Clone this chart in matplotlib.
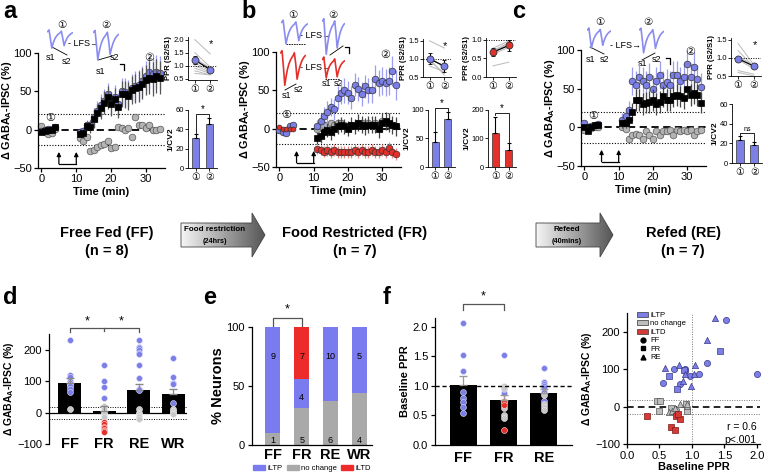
import numpy as np
import matplotlib
matplotlib.use("Agg")
import matplotlib.pyplot as plt
from matplotlib.patches import Polygon, Patch
from matplotlib.lines import Line2D
from matplotlib.colors import LinearSegmentedColormap

plt.rcParams['font.family'] = ['Liberation Sans', 'DejaVu Sans', 'Noto Sans CJK JP']
plt.rcParams['mathtext.fontset'] = 'custom'
plt.rcParams['mathtext.bf'] = 'Liberation Sans:bold'
plt.rcParams['mathtext.rm'] = 'Liberation Sans'
plt.rcParams['axes.linewidth'] = 0.9

# colours
BLUE = '#7b7fe6'
TRACE_BLUE = '#8a8cf0'
RED = '#e3302b'
GRAY = '#b4b4b4'
BLUE_ERR = '#9c9ff0'
RED_ERR = '#ee8a86'

# ---------------- data: time courses (a, b, c) ----------------
t_base = [0, 1, 2, 3, 4]
t_post = list(range(11, 35))
lfs_on, lfs_off = 5, 10

a_blue_base = [-2, -1, 1, 1, 4]
a_black_base = [-3, -2, 0, 0, 3]
a_gray_base = [5, -3, -6, -4, 1]
a_blue_post = [-3, -2, 6, 6, 16, 25, 32, 38, 46, 36, 43, 33, 50, 49, 47, 55, 57, 58, 63, 70, 75, 72, 75, 74]
a_black_post = [-5, -4, 5, 4, 14, 22, 28, 35, 42, 33, 40, 30, 47, 46, 44, 52, 54, 56, 60, 65, 68, 66, 70, 68]
a_gray_post = [-11, -15, -9, -28, -26, -22, -20, -19, -15, -24, -22, 4, 2, 0, 2, -9, 16, 6, 6, 2, 6, 0, 0, 1]
a_err_post = [5, 5, 6, 8, 12, 12, 14, 15, 15, 15, 15, 15, 17, 18, 18, 18, 19, 20, 20, 20, 21, 22, 22, 22]

b_blue_base = [-2, -5, -6, 4, 5]
b_red_base = [2, 0, -1, 0, 0]
b_blue_post = [3, 10, 16, 22, 28, 25, 40, 47, 50, 47, 40, 57, 52, 45, 55, 50, 50, 65, 60, 62, 60, 62, 75, 57]
b_black_post = [-12, -10, -5, -2, -5, 0, 3, 5, 3, 0, 5, 3, 8, 5, 3, 5, 5, 5, 0, 8, 10, 8, 5, 3]
b_gray_post = [0, 3, 5, 5, 7, 5, 8, 7, 5, 3, 5, 5, 8, 7, 5, 8, 5, 7, 5, 10, 8, 6, 5, 3]
b_red_post = [-27, -28, -30, -28, -30, -28, -30, -30, -30, -30, -30, -28, -30, -28, -30, -30, -28, -30, -30, -28, -30, -25, -30, -33]
b_blue_err = [8, 10, 12, 14, 12, 14, 15, 15, 16, 15, 15, 15, 16, 16, 15, 16, 16, 18, 17, 18, 18, 18, 20, 20]
b_black_err = [8, 9, 9, 9, 10, 10, 10, 10, 10, 10, 10, 10, 11, 11, 11, 11, 11, 11, 12, 12, 12, 12, 12, 12]
b_red_err = [6, 7, 7, 8, 8, 8, 8, 8, 8, 8, 8, 8, 8, 8, 8, 8, 8, 8, 8, 8, 8, 8, 8, 8]

c_blue_base = [5, 0, 2, 3, 4]
c_black_base = [0, -5, 0, 3, 3]
c_gray_base = [-3, -4, -1, 0, 1]
c_blue_post = [10, 15, 22, 60, 55, 65, 60, 55, 65, 50, 60, 68, 55, 58, 55, 68, 68, 60, 65, 82, 65, 78, 62, 52]
c_black_post = [5, 5, 10, 20, 35, 35, 30, 32, 33, 35, 30, 33, 40, 35, 35, 40, 42, 40, 38, 50, 42, 45, 42, 32]
c_gray_post = [0, -2, -15, -10, -8, -10, -15, -5, -10, -15, -5, -10, -5, -5, -3, -10, -3, -5, -3, -5, -3, -10, -5, -3]
c_blue_err = [8, 10, 12, 18, 18, 18, 18, 18, 18, 18, 18, 18, 18, 18, 18, 18, 18, 18, 18, 20, 18, 20, 18, 18]
c_black_err = [6, 6, 8, 12, 14, 14, 14, 14, 14, 14, 14, 14, 14, 14, 14, 14, 14, 14, 14, 15, 14, 15, 14, 14]

# representative IPSC traces (arbitrary units)
trace_pre = [0, 0.1, -0.45, -1.0, -0.7, -0.48, -0.33, -0.22, -0.14, -0.08, 0.02,
             -0.4, -0.85, -0.6, -0.42, -0.29, -0.2, -0.13, -0.08]
trace_post = [0, 0.1, -0.7, -1.6, -1.15, -0.8, -0.55, -0.38, -0.25, -0.15, 0.0,
              -0.55, -1.3, -0.95, -0.68, -0.48, -0.33, -0.22, -0.14]
trace_red_post = [0, 0.1, -0.35, -0.8, -0.55, -0.38, -0.26, -0.18, -0.12, -0.07, 0.02,
                  -0.35, -0.75, -0.52, -0.36, -0.25, -0.17, -0.11, -0.07]

# ---------------- data: insets ----------------
a_ppr_pre = [2.0, 1.5, 1.3, 1.2, 1.1, 1.0, 0.9, 0.8, 0.7]
a_ppr_post = [1.45, 0.95, 0.9, 0.85, 0.8, 0.75, 0.7, 0.65, 0.65]
a_ppr_mean, a_ppr_sem = [1.22, 0.85], [0.15, 0.05]
a_cv_mean, a_cv_sem = [31, 45], [4, 7]

b_ppr_pre_blue = [1.5, 1.05, 0.95, 1.0, 0.8]
b_ppr_post_blue = [1.3, 0.75, 0.6, 0.55, 0.65]
b_ppr_mean_blue, b_ppr_sem_blue = [1.0, 0.8], [0.15, 0.17]
b_ppr_pre_red = [0.78, 0.72, 0.68, 0.62, 0.7, 0.3]
b_ppr_post_red = [0.97, 0.92, 0.86, 0.8, 0.88, 0.4]
b_ppr_mean_red, b_ppr_sem_red = [0.67, 0.85], [0.1, 0.15]
b_cv_blue, b_cv_blue_sem = [44, 85], [18, 12]
b_cv_red, b_cv_red_sem = [120, 58], [57, 25]

c_ppr_pre = [1.4, 1.2, 1.05, 0.95, 0.65, 0.6]
c_ppr_post = [0.8, 0.75, 0.78, 0.7, 0.55, 0.5]
c_ppr_mean, c_ppr_sem = [0.98, 0.77], [0.05, 0.05]
c_cv_mean, c_cv_sem = [23, 18], [4, 3]

# ---------------- data: d, e, f, scatter ----------------
groups4 = ['FF', 'FR', 'RE', 'WR']
d_mean = [95, 5, 72, 58]
d_sem = [15, 15, 18, 18]
d_ltp = [[230, 118, 112, 100, 95, 88, 85, 75, 65], [150, 100, 80, 45],
         [230, 210, 205, 198, 190, 185, 150, 110, 75, 72], [175, 112, 95, 90, 32]]
d_nc = [[10], [20, 10, 0, -5, -15], [10, 0, -5, -10, -15, -20], [10, 5, 0, -5]]
d_ltd = [[], [-30, -35, -45, -50, -55, -58, -62], [], []]

e_ltp = [9, 4, 10, 5]
e_nc = [1, 5, 6, 4]
e_ltd = [0, 7, 0, 0]

groups3 = ['FF', 'FR', 'RE']
f_mean = [1.02, 0.77, 0.88]
f_sem = [0.15, 0.07, 0.06]
f_ltp = [[2.07, 1.52, 1.25, 0.9, 0.8, 0.72, 0.65, 0.55], [1.52, 0.99, 0.88, 0.95],
         [1.3, 1.07, 1.03, 1.0, 0.97, 0.9, 0.75]]
f_nc = [[], [1.0, 0.97, 0.62, 0.5, 0.45], [0.85, 0.7, 0.65, 0.6]]
f_ltd = [[], [0.75, 0.72, 0.68, 0.25], []]

sc_ff_ltp_x = [0.55, 0.72, 0.81, 0.89, 0.97, 1.11, 1.23, 1.52, 2.01, 0.9]
sc_ff_ltp_y = [62, 101, 61, 100, 81, 86, 116, 231, 88, 96]
sc_fr_ltp_x = [0.65, 0.77, 0.88, 1.44]
sc_fr_ltp_y = [83, 47, 99, 148]
sc_re_ltp_x = [0.59, 0.8, 0.87, 0.9, 1.03, 0.99, 1.05, 1.24, 1.36]
sc_re_ltp_y = [104, 112, 68, 86, 86, 54, 112, 179, 236]
sc_fr_nc_x = [0.47, 0.51, 0.5, 0.68, 0.91, 0.92]
sc_fr_nc_y = [16, 16, -12, -5, 7, -11]
sc_re_nc_x = [0.65, 0.69, 0.74, 0.82, 0.92, 0.93]
sc_re_nc_y = [-15, -12, -5, 8, 1, 7]
sc_ff_nc_x = [0.76]
sc_ff_nc_y = [-8]
sc_fr_ltd_x = [0.31, 0.76, 0.81, 0.78, 0.68, 0.74]
sc_fr_ltd_y = [-24, -26, -33, -21, -54, -63]

# ---------------- figure ----------------
W, H = 769, 473
fig = plt.figure(figsize=(W / 100, H / 100), dpi=100)


def box(l, t, r, b):
    return [l / W, 1 - b / H, (r - l) / W, (b - t) / H]


ov = fig.add_axes([0, 0, 1, 1])
ov.set_facecolor('none')
ov.axis('off')

YLAB = r'Δ GABA$_{\mathbf{A}}$-IPSC (%)'


def clean(ax):
    ax.set_facecolor('none')
    ax.spines[['top', 'right']].set_visible(False)


def series(ax, t, y, err, marker, fc, ec, errc, ms=4.8, z=3):
    if err is not None:
        ax.errorbar(t, y, yerr=err, fmt='none', ecolor=errc, elinewidth=0.9, capsize=0, zorder=z - 0.5)
    ax.plot(t, y, ls='none', marker=marker, ms=ms, mfc=fc, mec=ec, mew=0.5, zorder=z, clip_on=False)


def time_axes(rect):
    ax = fig.add_axes(box(*rect))
    clean(ax)
    ax.set_xlim(-1, 35.5)
    ax.set_ylim(-50, 100)
    ax.set_xticks([0, 10, 20, 30])
    ax.set_yticks([-50, 0, 50, 100])
    ax.axhline(0, color='k', ls=(0, (4, 2.5)), lw=1.3, zorder=1)
    ax.axhline(20, color='k', ls=(0, (1, 1.5)), lw=0.8, zorder=1)
    ax.axhline(-20, color='k', ls=(0, (1, 1.5)), lw=0.8, zorder=1)
    ax.tick_params(labelsize=8, length=3, width=0.9, pad=1.5)
    ax.set_xlabel('Time (min)', fontweight='bold', fontsize=8, labelpad=2)
    ax.set_ylabel(YLAB, fontweight='bold', fontsize=7.8)
    ax.yaxis.set_label_coords(-24 / (rect[2] - rect[0]), 0.5)
    for tx in (lfs_on, lfs_off):
        ax.annotate('', xy=(tx, -29), xytext=(tx, -44.5),
                    arrowprops=dict(arrowstyle='-|>', lw=0.9, color='k', mutation_scale=6, shrinkA=0, shrinkB=0))
    ax.plot([lfs_on, lfs_off], [-44.5, -44.5], color='k', lw=0.9)
    return ax


def trace(rect, y, color):
    ax = fig.add_axes(box(*rect))
    ax.axis('off')
    ax.plot(range(len(y)), y, color=color, lw=1.2)
    ax.set_xlim(-0.5, len(y) - 0.5)
    return ax


def ppr_inset(rect, pre, post, mean, sem, ylim, yticks, color, star=True):
    ax = fig.add_axes(box(*rect))
    clean(ax)
    for p, q in zip(pre, post):
        ax.plot([0, 1], [p, q], color='#b9b9b9', lw=0.7, zorder=1)
    ax.axhline(1.0, color='k', ls=(0, (1, 1.5)), lw=0.7, zorder=1)
    ax.errorbar([0, 1], mean, yerr=sem, color='k', lw=0.9, capsize=1.5, elinewidth=0.8,
                marker='o', ms=5, mfc=color, mec='#333', mew=0.6, zorder=3)
    ax.set_xlim(-0.45, 1.45)
    ax.set_ylim(*ylim)
    ax.set_yticks(yticks)
    ax.set_xticks([0, 1])
    ax.set_xticklabels(['①', '②'])
    ax.tick_params(labelsize=5.5, length=2, width=0.6, pad=1)
    ax.tick_params(axis='x', labelsize=7)
    for s in ax.spines.values():
        s.set_linewidth(0.6)
    ax.set_ylabel('PPR (S2/S1)', fontsize=5.5, fontweight='bold', labelpad=1)
    if star:
        ax.text(1.05, ylim[1] - 0.05 * (ylim[1] - ylim[0]), '*', ha='center', va='top', fontsize=8)
    return ax


def cv_inset(rect, mean, sem, color, ymax, yticks, lab='*'):
    ax = fig.add_axes(box(*rect))
    clean(ax)
    ax.bar([0, 1], mean, width=0.55, color=color, edgecolor='#333', lw=0.5,
           yerr=[[0, 0], sem], error_kw=dict(lw=0.8, capsize=1.5, capthick=0.8))
    ax.set_xlim(-0.55, 1.55)
    ax.set_ylim(0, ymax)
    ax.set_yticks(yticks)
    ax.set_xticks([0, 1])
    ax.set_xticklabels(['①', '②'])
    ax.tick_params(labelsize=5.5, length=2, width=0.6, pad=1)
    ax.tick_params(axis='x', labelsize=7)
    for s in ax.spines.values():
        s.set_linewidth(0.6)
    ax.set_ylabel('1/CV2', fontsize=6, fontweight='bold', labelpad=1)
    top = max(m + e for m, e in zip(mean, sem)) + 0.06 * ymax
    ax.plot([0, 0, 1, 1], [mean[0] + sem[0] + 0.02 * ymax, top, top, mean[1] + sem[1] + 0.02 * ymax],
            color='k', lw=0.6, clip_on=False)
    ax.text(0.5, top, lab, ha='center', va='bottom', fontsize=7 if lab == '*' else 5)
    return ax


# ---------------- panel a ----------------
ax = time_axes((38, 53, 165, 168))
series(ax, t_base, a_gray_base, None, 'o', GRAY, '#555', None, z=2)
series(ax, t_post, a_gray_post, None, 'o', GRAY, '#555', None, z=2)
series(ax, t_base, a_blue_base, None, 'o', BLUE, '#333', None, z=3)
series(ax, t_post, a_blue_post, a_err_post, 'o', BLUE, '#333', BLUE_ERR, z=3)
series(ax, t_base, a_black_base, None, 's', 'k', 'k', None, z=4)
series(ax, t_post, a_black_post, a_err_post, 's', 'k', 'k', '#555', z=4)
ax.text(2.5, 15, '①', ha='center', va='center', fontsize=8)
ax.text(31, 94, '②', ha='center', va='center', fontsize=8)

trace((47, 29, 73, 49), trace_pre, TRACE_BLUE)
trace((93, 29, 119, 61), trace_post, TRACE_BLUE)
ov.plot([52, 67], [47, 55], color='k', lw=0.6)
ov.plot([98, 112], [60, 56], color='k', lw=0.6)
ov.text(51, 57, 's1', fontsize=6.5, ha='center', va='center')
ov.text(67, 62, 's2', fontsize=6.5, ha='center', va='center')
ov.text(100, 71, 's1', fontsize=6.5, ha='center', va='center')
ov.text(115, 58, 's2', fontsize=6.5, ha='center', va='center')
ov.text(62, 25, '①', fontsize=7.5, ha='center', va='center')
ov.text(106, 25, '②', fontsize=7.5, ha='center', va='center')
ov.text(84, 44, '- LFS→', fontsize=6.5, ha='center', va='center')
ov.plot([120, 124, 124], [64, 64, 70], color='k', lw=0.9)

ppr_inset((188, 37, 217, 80), a_ppr_pre, a_ppr_post, a_ppr_mean, a_ppr_sem, (0.45, 2.1), [0.5, 1.0, 1.5, 2.0], BLUE)
cv_inset((188, 110, 217, 168), a_cv_mean, a_cv_sem, BLUE, 60, [0, 20, 40, 60])

# ---------------- panel b ----------------
ax = time_axes((276, 52, 401, 167))
series(ax, t_post, b_gray_post, None, 'o', GRAY, '#555', None, z=2)
series(ax, t_post, b_black_post, b_black_err, 's', 'k', 'k', '#444', z=3)
series(ax, t_base, b_blue_base, None, 'o', BLUE, '#333', None, z=4)
series(ax, t_post, b_blue_post, b_blue_err, 'o', BLUE, '#333', BLUE_ERR, z=4)
ax.plot(t_base, b_red_base, color=RED, lw=1.2, zorder=4)
series(ax, t_base, b_red_base, None, 'o', RED, '#333', None, ms=3.5, z=4)
series(ax, t_post, b_red_post, b_red_err, 'o', RED, '#333', RED_ERR, z=4)
ax.text(2, 18, '①', ha='center', va='center', fontsize=8)
ax.text(31, 96, '②', ha='center', va='center', fontsize=8)

trace((281, 19, 308, 45), trace_pre, TRACE_BLUE)
trace((322, 17, 345, 56), trace_post, TRACE_BLUE)
trace((280, 49, 306, 87), trace_post, RED)
trace((322, 56, 345, 79), trace_red_post, RED)
ov.plot([286, 305], [44, 44], color='k', lw=0.6, ls=(0, (2, 1)))
ov.plot([330, 343], [55, 46], color='k', lw=0.6)
ov.plot([285, 296], [90, 84], color='k', lw=0.6)
ov.plot([325, 340], [79, 79], color='k', lw=0.6, ls=(0, (2, 1)))
ov.text(287, 95, 's1', fontsize=6.5, ha='center', va='center')
ov.text(298, 89, 's2', fontsize=6.5, ha='center', va='center')
ov.text(326, 84, 's1', fontsize=6.5, ha='center', va='center')
ov.text(338, 84, 's2', fontsize=6.5, ha='center', va='center')
ov.text(293, 15, '①', fontsize=7.5, ha='center', va='center')
ov.text(333, 15, '②', fontsize=7.5, ha='center', va='center')
ov.text(316, 35, '- LFS→', fontsize=6.5, ha='center', va='center')
ov.text(316, 68, '- LFS→', fontsize=6.5, ha='center', va='center')
ov.plot([345, 349, 349], [47, 47, 53], color='k', lw=0.9)

ppr_inset((423, 39, 451, 77), b_ppr_pre_blue, b_ppr_post_blue, b_ppr_mean_blue, b_ppr_sem_blue,
          (0.5, 1.55), [0.5, 1.0, 1.5], BLUE)
ppr_inset((486, 38, 516, 77), b_ppr_pre_red, b_ppr_post_red, b_ppr_mean_red, b_ppr_sem_red,
          (0.0, 1.05), [0.0, 0.5, 1.0], RED)
cv_inset((428, 110, 455, 167), b_cv_blue, b_cv_blue_sem, BLUE, 100, [0, 50, 100])
cv_inset((488, 110, 516, 167), b_cv_red, b_cv_red_sem, RED, 200, [0, 100, 200])

# ---------------- panel c ----------------
ax = time_axes((581, 50, 706, 166))
series(ax, t_base, c_gray_base, None, 'o', GRAY, '#555', None, z=2)
series(ax, t_post, c_gray_post, None, 'o', GRAY, '#555', None, z=2)
series(ax, t_base, c_blue_base, None, 'o', BLUE, '#333', None, z=3)
series(ax, t_post, c_blue_post, c_blue_err, 'o', BLUE, '#333', BLUE_ERR, z=3)
series(ax, t_base, c_black_base, None, 's', 'k', 'k', None, z=4)
series(ax, t_post, c_black_post, c_black_err, 's', 'k', 'k', '#444', z=4)
ax.text(2.5, 15, '①', ha='center', va='center', fontsize=8)
ax.text(31, 98, '②', ha='center', va='center', fontsize=8)

trace((587, 27, 611, 49), trace_pre, TRACE_BLUE)
trace((639, 27, 664, 54), trace_post, TRACE_BLUE)
ov.plot([590, 604], [47, 54], color='k', lw=0.6)
ov.plot([642, 655], [60, 53], color='k', lw=0.6)
ov.text(591, 60, 's1', fontsize=6.5, ha='center', va='center')
ov.text(605, 60, 's2', fontsize=6.5, ha='center', va='center')
ov.text(642, 64, 's1', fontsize=6.5, ha='center', va='center')
ov.text(657, 59, 's2', fontsize=6.5, ha='center', va='center')
ov.text(600, 22, '①', fontsize=7.5, ha='center', va='center')
ov.text(648, 22, '②', fontsize=7.5, ha='center', va='center')
ov.text(626, 45, '- LFS→', fontsize=6.5, ha='center', va='center')
ov.plot([666, 670, 670], [58, 58, 64], color='k', lw=0.9)

ppr_inset((731, 38, 761, 76), c_ppr_pre, c_ppr_post, c_ppr_mean, c_ppr_sem, (0.5, 1.55), [0.5, 1.0, 1.5], BLUE)
cv_inset((732, 104, 762, 163), c_cv_mean, c_cv_sem, BLUE, 60, [0, 20, 40, 60], lab='ns')

# ---------------- middle row ----------------
gcmap = LinearSegmentedColormap.from_list('g', ['#f6f6f6', '#555555'])


def grad_arrow(x0, xh, x1, yc, hb, hh):
    verts = [(x0, yc - hb), (xh, yc - hb), (xh, yc - hh), (x1, yc), (xh, yc + hh), (xh, yc + hb), (x0, yc + hb)]
    poly = Polygon(verts, closed=True, fc='none', ec='#444', lw=0.6, zorder=2)
    ov.add_patch(poly)
    im = ov.imshow(np.linspace(0, 1, 256).reshape(1, -1), cmap=gcmap, aspect='auto',
                   extent=[x0, x1, yc + hh, yc - hh], zorder=1)
    im.set_clip_path(poly)


grad_arrow(181, 252, 265, 235, 12, 22)
grad_arrow(536, 600, 613, 235, 12, 22)
ov.text(215, 229, 'Food restriction', fontsize=5.8, fontweight='bold', ha='center', va='center')
ov.text(215, 241, '(24hrs)', fontsize=5.2, fontweight='bold', ha='center', va='center')
ov.text(567, 229, 'Refeed', fontsize=5.8, fontweight='bold', ha='center', va='center')
ov.text(567, 241, '(40mins)', fontsize=5.2, fontweight='bold', ha='center', va='center')
for cx, l1, l2 in [(107, 'Free Fed (FF)', '(n = 8)'), (355, 'Food Restricted (FR)', '(n = 7)'),
                   (683, 'Refed (RE)', '(n = 7)')]:
    ov.text(cx, 233, l1, fontsize=10.5, fontweight='bold', ha='center', va='center')
    ov.text(cx, 251, l2, fontsize=10.5, fontweight='bold', ha='center', va='center')

# panel letters
for lx, ly, let in [(3, 12, 'a'), (241, 12, 'b'), (512, 12, 'c'), (3, 297, 'd'), (203, 297, 'e'), (383, 297, 'f')]:
    ov.text(lx, ly, let, fontsize=17, fontweight='bold', ha='left', va='center')


def dots(ax, i, vals, color, ec):
    if vals:
        ax.plot([i] * len(vals), vals, ls='none', marker='o', ms=4.3, mfc=color, mec=ec, mew=0.4,
                zorder=4, clip_on=False)


# ---------------- panel d ----------------
ax = fig.add_axes(box(49, 334, 187, 444))
clean(ax)
ax.spines['bottom'].set_visible(False)
ax.set_xlim(-0.6, 3.4)
ax.set_ylim(-100, 250)
ax.set_yticks([-100, 0, 100, 200])
ax.set_xticks([])
ax.tick_params(labelsize=8, length=3, width=0.9, pad=2)
ax.bar(range(4), d_mean, width=0.66, color='k', zorder=2)
ax.errorbar(range(4), d_mean, yerr=[[0] * 4, d_sem], fmt='none', ecolor='#888', elinewidth=0.9,
            capsize=3, zorder=5)
ax.axhline(0, color='k', lw=0.9, zorder=1)
ax.axhline(18, color='k', ls=(0, (1, 1.5)), lw=0.7, zorder=1)
ax.axhline(-20, color='k', ls=(0, (1, 1.5)), lw=0.7, zorder=1)
for i in range(4):
    dots(ax, i, d_ltp[i], BLUE, '#e0e0ff')
    dots(ax, i, d_nc[i], '#c8c8c8', '#eeeeee')
    dots(ax, i, d_ltd[i], RED, '#ffdddd')
    ax.text(i, -100, groups4[i], ha='center', va='center', fontsize=10.5, fontweight='bold')
ax.set_ylabel(YLAB, fontweight='bold', fontsize=7.5, labelpad=1)
ax.plot([0, 0, 2, 2], [255, 268, 268, 255], color='#555', lw=0.9, clip_on=False)
ax.plot([1, 1], [258, 268], color='#555', lw=0.9, clip_on=False)
ax.text(0.5, 272, '*', ha='center', va='bottom', fontsize=9)
ax.text(1.5, 272, '*', ha='center', va='bottom', fontsize=9)

# ---------------- panel e ----------------
ax = fig.add_axes(box(252, 327, 372, 445))
clean(ax)
tot = [a + b + c for a, b, c in zip(e_ltp, e_nc, e_ltd)]
p_nc = [100 * n / t for n, t in zip(e_nc, tot)]
p_ltp = [100 * n / t for n, t in zip(e_ltp, tot)]
p_ltd = [100 * n / t for n, t in zip(e_ltd, tot)]
bot2 = [a + b for a, b in zip(p_nc, p_ltp)]
ax.bar(range(4), p_nc, width=0.52, color='#a9a9a9')
ax.bar(range(4), p_ltp, width=0.52, bottom=p_nc, color='#7b7bf0')
ax.bar(range(4), p_ltd, width=0.52, bottom=bot2, color='#ee2b2b')
ax.set_xlim(-0.73, 3.45)
ax.set_ylim(0, 100)
ax.set_yticks([0, 50, 100])
ax.set_xticks(range(4))
ax.set_xticklabels(groups4, fontsize=10.5, fontweight='bold')
ax.tick_params(axis='y', labelsize=8, length=3, width=0.9, pad=2)
ax.tick_params(axis='x', length=0, pad=2)
ax.set_ylabel('% Neurons', fontweight='bold', fontsize=10.5, labelpad=1)
for i in range(4):
    ax.text(i, 4, str(e_nc[i]), ha='center', va='center', fontsize=6.5)
    if e_ltd[i]:
        ax.text(i, 75, str(e_ltd[i]), ha='center', va='center', fontsize=6.5)
        ax.text(i, 40, str(e_ltp[i]), ha='center', va='center', fontsize=6.5)
    else:
        ax.text(i, 75, str(e_ltp[i]), ha='center', va='center', fontsize=6.5)
ax.plot([0, 0, 1, 1], [101, 108, 108, 101], color='#555', lw=0.9, clip_on=False)
ax.text(0.5, 110, '*', ha='center', va='bottom', fontsize=9)
leg = [Patch(color='#7b7bf0'), Patch(color='#a9a9a9'), Patch(color='#ee2b2b')]
ax.legend(leg, ['iLTP', 'no change', 'iLTD'], loc='upper center', bbox_to_anchor=(0.5, -0.14), ncol=3,
          fontsize=5.5, frameon=False, handlelength=1.6, handleheight=0.6, handletextpad=0.3,
          columnspacing=0.5, borderpad=0)

# ---------------- panel f ----------------
ax = fig.add_axes(box(435, 318, 572, 445))
clean(ax)
ax.set_xlim(-0.7, 2.7)
ax.set_ylim(0, 2.15)
ax.set_yticks([0.0, 0.5, 1.0, 1.5, 2.0])
ax.set_yticklabels(['0.0', '0.5', '1.0', '1.5', '2.0'])
ax.set_xticks(range(3))
ax.set_xticklabels(groups3, fontsize=10.5, fontweight='bold')
ax.tick_params(axis='y', labelsize=8, length=3, width=0.9, pad=2)
ax.tick_params(axis='x', length=0, pad=4)
ax.bar(range(3), f_mean, width=0.68, color='k', zorder=2)
ax.errorbar(range(3), f_mean, yerr=[[0] * 3, f_sem], fmt='none', ecolor='#999', elinewidth=0.9,
            capsize=3, zorder=5)
ax.axhline(1.0, color='k', ls=(0, (3, 2)), lw=1.0, zorder=6)
for i in range(3):
    dots(ax, i, f_ltp[i], BLUE, '#e0e0ff')
    dots(ax, i, f_nc[i], '#c8c8c8', '#eeeeee')
    dots(ax, i, f_ltd[i], RED, '#ffdddd')
ax.set_ylabel('Baseline PPR', fontweight='bold', fontsize=8, labelpad=2)
ax.plot([0, 0, 1, 1], [2.28, 2.38, 2.38, 2.28], color='#555', lw=0.9, clip_on=False)
ax.text(0.5, 2.42, '*', ha='center', va='bottom', fontsize=9)

# ---------------- scatter ----------------
ax = fig.add_axes(box(627, 313, 760, 444))
clean(ax)
ax.set_xlim(0, 2.05)
ax.set_ylim(-100, 250)
ax.set_xticks([0, 0.5, 1.0, 1.5, 2.0])
ax.set_xticklabels(['0.0', '0.5', '1.0', '1.5', '2.0'])
ax.set_yticks([-100, 0, 100, 200])
ax.tick_params(labelsize=8, length=3, width=0.9, pad=2)
ax.axhline(0, color='k', ls=(0, (4, 2.5)), lw=1.2, zorder=1)
ax.axhline(18, color='#777', ls=(0, (1, 1.5)), lw=0.7, zorder=1)
ax.axhline(-20, color='#777', ls=(0, (1, 1.5)), lw=0.7, zorder=1)
ax.axvline(1.0, color='#777', ls=(0, (1, 1.5)), lw=0.7, zorder=1)
kw = dict(s=20, linewidths=0.5, zorder=3)
ax.scatter(sc_ff_ltp_x, sc_ff_ltp_y, marker='o', c=BLUE, edgecolors='#3a3a8a', **kw)
ax.scatter(sc_fr_ltp_x, sc_fr_ltp_y, marker='s', c=BLUE, edgecolors='#3a3a8a', **kw)
ax.scatter(sc_re_ltp_x, sc_re_ltp_y, marker='^', c=BLUE, edgecolors='#3a3a8a', **kw)
ax.scatter(sc_ff_nc_x, sc_ff_nc_y, marker='o', c='#bdbdbd', edgecolors='#555', **kw)
ax.scatter(sc_fr_nc_x, sc_fr_nc_y, marker='s', c='#bdbdbd', edgecolors='#555', **kw)
ax.scatter(sc_re_nc_x, sc_re_nc_y, marker='^', c='#bdbdbd', edgecolors='#555', **kw)
ax.scatter(sc_fr_ltd_x, sc_fr_ltd_y, marker='s', c='#d63a36', edgecolors='#7a1a1a', **kw)
ax.text(2.0, -72, 'r = 0.6\np<.001', ha='right', va='center', fontsize=7.5, linespacing=1.4)
ax.set_xlabel('Baseline PPR', fontweight='bold', fontsize=8, labelpad=1)
ax.set_ylabel(YLAB, fontweight='bold', fontsize=7.5, labelpad=1)
handles = [Patch(fc=BLUE, ec='#333', lw=0.5), Patch(fc='#bdbdbd', ec='#333', lw=0.5),
           Patch(fc='#d63a36', ec='#333', lw=0.5),
           Line2D([], [], ls='none', marker='o', color='k', ms=3.5),
           Line2D([], [], ls='none', marker='s', color='k', ms=3.5),
           Line2D([], [], ls='none', marker='^', color='k', ms=3.5)]
ax.legend(handles, ['iLTP', 'no change', 'iLTD', 'FF', 'FR', 'RE'], loc='upper left',
          bbox_to_anchor=(0.05, 1.04), fontsize=5.5, frameon=False, handlelength=1.4, handleheight=0.7,
          handletextpad=0.3, labelspacing=0.15, borderpad=0)

ov.set_xlim(0, W)
ov.set_ylim(H, 0)

fig.savefig('out.png', dpi=100)
